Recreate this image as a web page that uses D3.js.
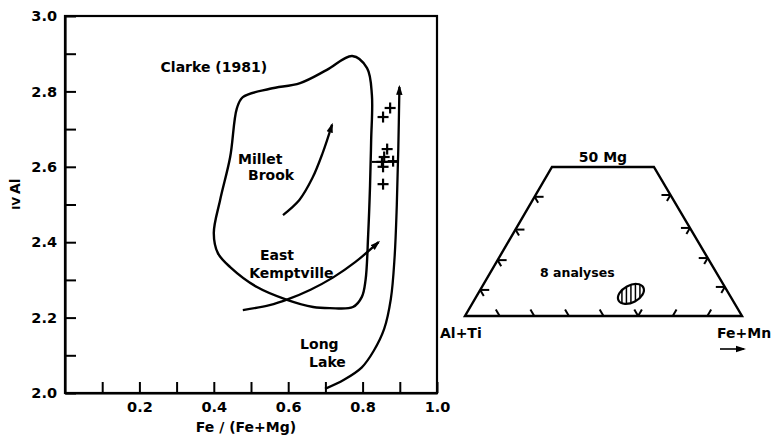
<!DOCTYPE html>
<html>
<head>
<meta charset="utf-8">
<script src="https://cdn.jsdelivr.net/npm/d3@7"></script>
<style>
  html, body { margin: 0; padding: 0; background: #fff; }
  svg text { font-family: "DejaVu Sans", "Liberation Sans", sans-serif; font-weight: bold; fill: #000; }
</style>
</head>
<body>
<svg id="chart" width="772" height="440"></svg>
<script>
// ---------- data ----------
const xTicks = [0.1,0.2,0.3,0.4,0.5,0.6,0.7,0.8,0.9,1.0];
const xTickLabels = {"0.2":"0.2","0.4":"0.4","0.6":"0.6","0.8":"0.8","1":"1.0"};
const yTicks = [2.0,2.1,2.2,2.3,2.4,2.5,2.6,2.7,2.8,2.9,3.0];
const yTickLabels = {"2":"2.0","2.2":"2.2","2.4":"2.4","2.6":"2.6","2.8":"2.8","3":"3.0"};

// Clarke (1981) field outline (Fe/(Fe+Mg), IV Al)
const clarkeField = [[0.772,2.894],[0.704,2.857],[0.632,2.822],[0.551,2.807],[0.478,2.785],[0.462,2.755],
  [0.444,2.626],[0.417,2.512],[0.400,2.424],[0.411,2.371],[0.444,2.334],[0.516,2.281],[0.597,2.247],
  [0.667,2.228],[0.712,2.225],[0.774,2.228],[0.798,2.255],[0.808,2.300],[0.815,2.420],[0.820,2.550],
  [0.823,2.671],[0.825,2.790],[0.812,2.862]];
const milletBrook = [[0.586,2.472],[0.630,2.512],[0.665,2.570],[0.692,2.635],[0.718,2.712]];
const eastKemptville = [[0.478,2.220],[0.550,2.233],[0.600,2.249],[0.660,2.274],[0.720,2.306],[0.780,2.347],[0.843,2.400]];
const longLake = [[0.699,2.011],[0.750,2.035],[0.798,2.068],[0.830,2.112],[0.858,2.170],[0.876,2.250],
  [0.886,2.360],[0.892,2.500],[0.896,2.650],[0.899,2.812]];
const connector = [[0.825,2.613],[0.897,2.613]];
const analyses = [[0.874,2.756],[0.855,2.732],[0.866,2.647],[0.852,2.613],[0.882,2.615],[0.858,2.626],[0.855,2.600],[0.855,2.554]];

const fieldLabels = [
  {text:"Clarke (1981)", x:0.257, y:2.864, anchor:"start"},
  {text:"Millet", x:0.465, y:2.622, anchor:"start"},
  {text:"Brook", x:0.492, y:2.578, anchor:"start"},
  {text:"East", x:0.524, y:2.366, anchor:"start"},
  {text:"Kemptville", x:0.495, y:2.318, anchor:"start"},
  {text:"Long", x:0.632, y:2.130, anchor:"start"},
  {text:"Lake", x:0.656, y:2.082, anchor:"start"}
];

// Ternary-style diagram (x fraction along base, Mg fraction up to 50)
const trapezoid = [[0,0],[1,0],[0.682,0.5],[0.314,0.5]];
const leftEdgeTicks = [0.175,0.375,0.58,0.80];
const rightEdgeTicks = [0.195,0.389,0.591,0.812];
const baseTicks = [{t:0.125,s:"\\"},{t:0.25,s:"\\"},{t:0.375,s:"\\"},{t:0.5,s:"\\"},{t:0.625,s:"V"},{t:0.75,s:"/"},{t:0.875,s:"/"}];
const analysisField = {x:0.599, y:0.074};

// ---------- drawing ----------
const svg = d3.select("#chart");
const x = d3.scaleLinear().domain([0,1]).range([65,437]);
const y = d3.scaleLinear().domain([2,3]).range([393,16]);

// arrow marker
svg.append("defs").append("marker")
  .attr("id","ah").attr("viewBox","0 -4 10 8").attr("refX",8).attr("refY",0)
  .attr("markerWidth",10).attr("markerHeight",8).attr("markerUnits","userSpaceOnUse")
  .attr("orient","auto")
  .append("path").attr("d","M0,-3.2L10,0L0,3.2Z").attr("fill","#000");

// frame
svg.append("rect").attr("x",x(0)).attr("y",y(3)).attr("width",x(1)-x(0)).attr("height",y(2)-y(3))
  .attr("fill","none").attr("stroke","#000").attr("stroke-width",2.2);

const xAxis = d3.axisBottom(x).tickValues(xTicks).tickSizeInner(-11).tickSizeOuter(0).tickPadding(9)
  .tickFormat(d => xTickLabels[String(+d.toFixed(1))] || "");
const gx = svg.append("g").attr("transform",`translate(0,${y(2)})`).call(xAxis);
const yAxis = d3.axisLeft(y).tickValues(yTicks).tickSizeInner(-11).tickSizeOuter(0).tickPadding(8)
  .tickFormat(d => yTickLabels[String(+d.toFixed(1))] || "");
const gy = svg.append("g").attr("transform",`translate(${x(0)},0)`).call(yAxis);
[gx, gy].forEach(g => {
  g.select(".domain").attr("stroke","#000").attr("stroke-width",2.2);
  g.selectAll(".tick line").attr("stroke","#000").attr("stroke-width",2);
  g.selectAll(".tick text").attr("font-size",14.5).attr("font-family","DejaVu Sans").attr("font-weight","bold").attr("fill","#000");
});

// axis titles
svg.append("text").attr("x",246).attr("y",432).attr("text-anchor","middle").attr("font-size",14)
  .text("Fe / (Fe+Mg)");
const yt = svg.append("text").attr("transform","translate(20,194) rotate(-90)").attr("text-anchor","middle");
yt.append("tspan").attr("font-size",11).text("IV");
yt.append("tspan").attr("font-size",14).attr("dx",3).text("Al");

const line = d3.line().x(d => x(d[0])).y(d => y(d[1]));
svg.append("path").attr("d", line.curve(d3.curveCatmullRomClosed.alpha(0.5))(clarkeField))
  .attr("fill","none").attr("stroke","#000").attr("stroke-width",2.4);
const openLine = d3.line().x(d => x(d[0])).y(d => y(d[1])).curve(d3.curveCatmullRom.alpha(0.5));
[milletBrook, eastKemptville, longLake].forEach(arr => {
  svg.append("path").attr("d", openLine(arr)).attr("fill","none").attr("stroke","#000")
    .attr("stroke-width",2.3).attr("marker-end","url(#ah)");
});
svg.append("path").attr("d", d3.line().x(d=>x(d[0])).y(d=>y(d[1]))(connector))
  .attr("stroke","#000").attr("stroke-width",2);

// plus signs
const plus = svg.append("g").attr("stroke","#000").attr("stroke-width",2.2);
analyses.forEach(d => {
  const cx = x(d[0]), cy = y(d[1]);
  plus.append("line").attr("x1",cx-5.5).attr("x2",cx+5.5).attr("y1",cy).attr("y2",cy);
  plus.append("line").attr("x1",cx).attr("x2",cx).attr("y1",cy-5.5).attr("y2",cy+5.5);
});

// field labels
fieldLabels.forEach(l => {
  svg.append("text").attr("x",x(l.x)).attr("y",y(l.y)).attr("dy","0.36em")
    .attr("text-anchor",l.anchor).attr("font-size",14).text(l.text);
});

// ---------- trapezoid diagram ----------
const tx = d3.scaleLinear().domain([0,1]).range([465,742]);
const ty = d3.scaleLinear().domain([0,0.5]).range([316,167]);
const tp = d => [tx(d[0]), ty(d[1])];
svg.append("path").attr("d", d3.line().x(d=>tx(d[0])).y(d=>ty(d[1]))(trapezoid) + "Z")
  .attr("fill","none").attr("stroke","#000").attr("stroke-width",2.4).attr("stroke-linejoin","miter");

const BL = tp(trapezoid[0]), BR = tp(trapezoid[1]), TR = tp(trapezoid[2]), TL = tp(trapezoid[3]);
const unit = (a,b) => { const dx=b[0]-a[0], dy=b[1]-a[1], L=Math.hypot(dx,dy); return [dx/L, dy/L]; };
const dirRightDown = unit(TR, BR);   // parallel to right edge, going down
const dirLeftDown = unit(TL, BL);    // parallel to left edge, going down
const tk = svg.append("g").attr("stroke","#000").attr("stroke-width",2).attr("fill","none");
const seg = (p, v, len) => tk.append("line").attr("x1",p[0]).attr("y1",p[1])
  .attr("x2",p[0]+v[0]*len).attr("y2",p[1]+v[1]*len);
leftEdgeTicks.forEach(t => {
  const p = [BL[0]+(TL[0]-BL[0])*t, BL[1]+(TL[1]-BL[1])*t];
  seg(p,[1,0],9); seg(p,dirRightDown,7);
});
rightEdgeTicks.forEach(t => {
  const p = [BR[0]+(TR[0]-BR[0])*t, BR[1]+(TR[1]-BR[1])*t];
  seg(p,[-1,0],9); seg(p,dirLeftDown,7);
});
baseTicks.forEach(b => {
  const p = [tx(b.t), ty(0)];
  if (b.s === "\\" || b.s === "V") seg(p,[-dirRightDown[0],-dirRightDown[1]],7.5);
  if (b.s === "/" || b.s === "V") seg(p,[-dirLeftDown[0],-dirLeftDown[1]],7.5);
});

// labels
svg.append("text").attr("x",(TL[0]+TR[0])/2).attr("y",TL[1]-5).attr("text-anchor","middle").attr("font-size",14).text("50 Mg");
svg.append("text").attr("x",440).attr("y",338).attr("font-size",14).text("Al+Ti");
svg.append("text").attr("x",717).attr("y",338).attr("font-size",14).text("Fe+Mn");
svg.append("line").attr("x1",720).attr("y1",349).attr("x2",744).attr("y2",349)
  .attr("stroke","#000").attr("stroke-width",1.6).attr("marker-end","url(#ah)");
svg.append("text").attr("x",540).attr("y",277).attr("font-size",12.5).text("8 analyses");

// hatched ellipse
const ec = [tx(analysisField.x), ty(analysisField.y)];
svg.select("defs").append("clipPath").attr("id","ec")
  .append("ellipse").attr("cx",ec[0]).attr("cy",ec[1]).attr("rx",14).attr("ry",8.5)
  .attr("transform",`rotate(-28,${ec[0]},${ec[1]})`);
const hatch = svg.append("g").attr("clip-path","url(#ec)").attr("stroke","#000").attr("stroke-width",1.5);
d3.range(-9,10,4.5).forEach(o => hatch.append("line").attr("x1",ec[0]+o).attr("x2",ec[0]+o).attr("y1",ec[1]-15).attr("y2",ec[1]+15));
svg.append("ellipse").attr("cx",ec[0]).attr("cy",ec[1]).attr("rx",14).attr("ry",8.5)
  .attr("transform",`rotate(-28,${ec[0]},${ec[1]})`).attr("fill","none").attr("stroke","#000").attr("stroke-width",2.2);
</script>
</body>
</html>
